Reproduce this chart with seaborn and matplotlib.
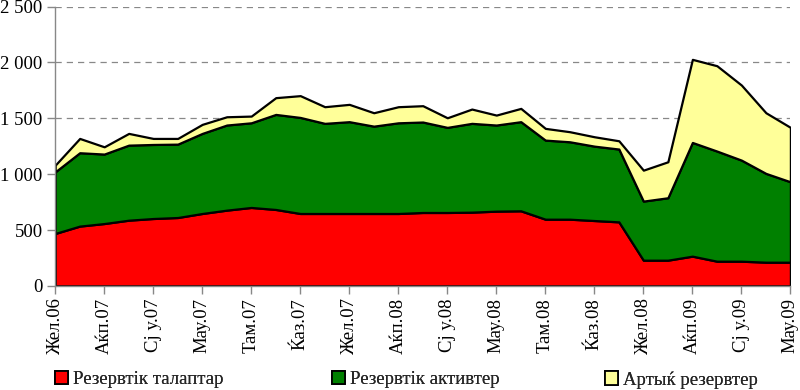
import matplotlib
matplotlib.use("Agg")
import matplotlib.pyplot as plt
import matplotlib.ticker as mticker
from matplotlib.patches import Patch
import seaborn as sns

# %% DATA (monthly, Dec 2006 - Jun 2009)

months = list(range(31))
tick_labels = ['Жел.06', 'Аќп.07', 'Сј у.07', 'Мау.07', 'Там.07', 'Ќаз.07',
               'Жел.07', 'Аќп.08', 'Сј у.08', 'Мау.08', 'Там.08', 'Ќаз.08',
               'Жел.08', 'Аќп.09', 'Сј у.09', 'Мау.09']

required = [469, 535, 558, 588, 603, 612, 648, 678, 702, 684, 648, 648, 648, 648, 648, 657,
            657, 660, 669, 672, 597, 597, 585, 573, 230, 230, 266, 221, 221, 212, 212]
assets = [552, 657, 622, 672, 663, 657, 717, 762, 758, 851, 860, 807, 822, 782, 812, 810,
          762, 795, 771, 798, 708, 693, 666, 652, 529, 559, 1018, 986, 905, 795, 720]
excess = [60, 128, 65, 105, 54, 51, 81, 74, 60, 150, 195, 149, 155, 120, 144, 146,
          86, 128, 89, 119, 105, 90, 84, 74, 277, 322, 744, 764, 672, 543, 487]

series_names = ['Резервтік талаптар', 'Резервтік активтер', 'Артыќ резервтер']
colors = ['#ff0000', '#008000', '#ffff99']

# %% PLOT

sns.set_style('white')
plt.rcParams['font.family'] = ['Liberation Serif', 'DejaVu Serif']

fig = plt.figure(figsize=(8, 3.9), dpi=100)
ax = fig.add_axes([0.069, 0.267, 0.919, 0.716])

ax.stackplot(months, required, assets, excess, colors=colors,
             edgecolor='black', linewidth=1.6, zorder=2)

ax.set_xlim(0, 30)
ax.set_ylim(0, 2500)
ax.yaxis.set_major_locator(mticker.MultipleLocator(500))
ax.yaxis.set_major_formatter(mticker.FuncFormatter(lambda v, p: f'{int(v):,}'.replace(',', ' ')))
ax.set_xticks(months[::2])
ax.set_xticklabels(tick_labels, rotation=90)

ax.grid(axis='y', color='#888888', linestyle=(0, (5, 4)), linewidth=0.9, zorder=0)
ax.set_axisbelow(True)

for side in ['top', 'right']:
    ax.spines[side].set_visible(False)
for side in ['left', 'bottom']:
    ax.spines[side].set_color('#888888')
    ax.spines[side].set_linewidth(1.0)

ax.tick_params(axis='both', labelsize=13.5, labelcolor='black', color='#888888',
               length=6, width=1, direction='out', left=True, bottom=True, pad=3)

# one legend per entry, placed like the original
legend_x = [55 / 800, 332 / 800, 605 / 800]
for name, c, x in zip(series_names, colors, legend_x):
    leg = fig.legend([Patch(facecolor=c, edgecolor='black', linewidth=1.3)], [name],
                     loc='center left', bbox_to_anchor=(x, 0.026), frameon=False,
                     fontsize=13.5, handlelength=0.7, handleheight=0.7,
                     handletextpad=0.25, borderpad=0, borderaxespad=0)
    fig.add_artist(leg)

fig.savefig('out.png', dpi=100)
